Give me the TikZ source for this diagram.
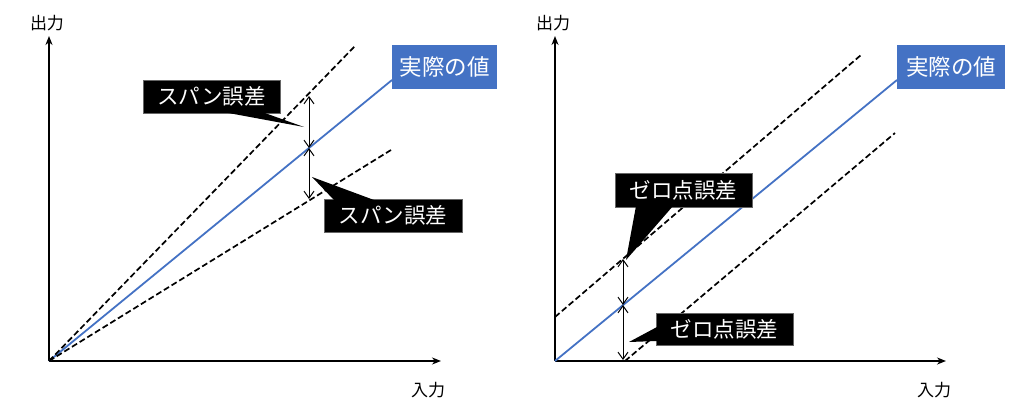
\documentclass[tikz,border=0pt]{standalone}
\usepackage{fontspec}
\setmainfont{Noto Sans CJK JP}
\usetikzlibrary{arrows.meta}
\definecolor{actblue}{HTML}{4472C4}
\tikzset{
  axis/.style={line width=2pt,-{Stealth[length=9pt,width=7pt]}},
  actual/.style={line width=1.8pt,draw=actblue},
  errline/.style={line width=1.7pt,dash pattern=on 6pt off 3pt},
  dim/.style={line width=1pt,{Straight Barb[length=7pt,width=10pt]}-{Straight Barb[length=7pt,width=10pt]}},
  callout/.style={fill=black,draw=black!60,line width=0.6pt,text=white,inner sep=0pt,font=\fontsize{21.5}{23}\selectfont},
  bluebox/.style={fill=actblue,text=white,inner sep=0pt,font=\fontsize{22.5}{24}\selectfont},
  axlabel/.style={font=\fontsize{17}{19}\selectfont},
  pointer/.style={fill=black},
}
\begin{document}
\begin{tikzpicture}[x=1pt,y=-1pt]
\useasboundingbox (0,0) rectangle (1015,412);
% ---------- left panel ----------
\coordinate (O1) at (49,361);
\coordinate (Y1) at (49,36);
\coordinate (X1) at (441,361);
\draw[axis] (O1) -- (Y1);
\draw[axis] (O1) -- (X1);
\node[axlabel] (outL) at (47,23) {出力};
\node[axlabel] (inL) at (428,390) {入力};
\node[bluebox,minimum width=105pt,minimum height=44pt] (actL) at (444.5,67) {実際の値};
\coordinate (bL) at (392,80);
\draw[actual] (O1) -- (bL);
\coordinate (uL) at (355,46);
\coordinate (lL) at (391,150);
\draw[errline] (O1) -- (uL);
\draw[errline] (O1) -- (lL);
\coordinate (a1) at (309,96);
\coordinate (a2) at (309,148);
\coordinate (a3) at (309,199);
\draw[dim] (a1) -- (a2);
\draw[dim] (a2) -- (a3);
\node[callout,minimum width=137pt,minimum height=33pt] (c1) at (211.5,96.5) {スパン誤差};
\coordinate (t1) at (304,127);
\fill[pointer] (223,112) -- (t1) -- (262,112) -- cycle;
\node[callout,minimum width=138pt,minimum height=33pt] (c2) at (393,215.5) {スパン誤差};
\coordinate (t2) at (312,177);
\fill[pointer] (334,200) -- (t2) -- (374,200) -- cycle;
% ---------- right panel ----------
\coordinate (O2) at (555,361);
\coordinate (Y2) at (555,36);
\coordinate (X2) at (946,361);
\draw[axis] (O2) -- (Y2);
\draw[axis] (O2) -- (X2);
\node[axlabel] (outR) at (553,23) {出力};
\node[axlabel] (inR) at (934,390) {入力};
\node[bluebox,minimum width=108pt,minimum height=44pt] (actR) at (951,67) {実際の値};
\coordinate (bR) at (897,80);
\draw[actual] (O2) -- (bR);
\coordinate (uR0) at (555,317);
\coordinate (uR) at (861,55);
\coordinate (lR0) at (625,361);
\coordinate (lR) at (895,133);
\draw[errline] (uR0) -- (uR);
\draw[errline] (lR0) -- (lR);
\coordinate (b1) at (623,259);
\coordinate (b2) at (623,305);
\coordinate (b3) at (623,360);
\draw[dim] (b1) -- (b2);
\draw[dim] (b2) -- (b3);
\node[callout,minimum width=137pt,minimum height=34pt] (c3) at (683.5,190) {ゼロ点誤差};
\coordinate (t3) at (626,260);
\fill[pointer] (636,206) -- (t3) -- (673,206) -- cycle;
\node[callout,minimum width=137pt,minimum height=32pt] (c4) at (724.5,329) {ゼロ点誤差};
\coordinate (t4) at (629,342);
\fill[pointer] (657,327) -- (t4) -- (657,341) -- cycle;
\end{tikzpicture}
\end{document}
